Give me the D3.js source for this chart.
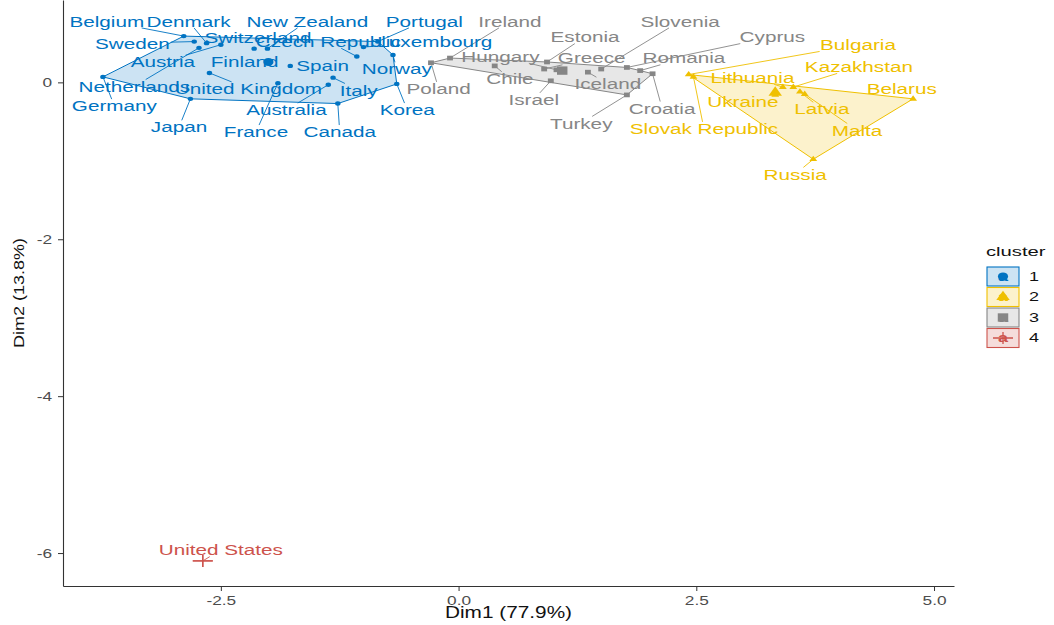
<!DOCTYPE html>
<html>
<head>
<meta charset="utf-8">
<script src="https://cdn.jsdelivr.net/npm/d3@7"></script>
<style>
  body { margin: 0; background: #fff; }
  svg { display: block; }
  text { font-family: Arial, "Liberation Sans", sans-serif; }
</style>
</head>
<body>
<svg id="chart" width="1054" height="625"></svg>
<script>
// ---- k-means clusters on the first two principal components ----
const countries = [
  "Belgium", "Sweden", "Denmark", "Netherlands", "Austria", "Germany", "United Kingdom",
  "Japan", "Switzerland", "New Zealand", "Finland", "Spain", "France", "Australia",
  "Italy", "Canada", "Korea", "Norway", "Portugal", "Luxembourg", "Czech Republic",
  "Bulgaria", "Slovak Republic", "Lithuania", "Kazakhstan", "Latvia", "Malta",
  "Ukraine", "Belarus", "Russia",
  "Poland", "Ireland", "Chile", "Hungary", "Estonia", "Greece", "Israel", "Iceland",
  "Slovenia", "Cyprus", "Romania", "Croatia", "Turkey",
  "United States"
];
const clusterOf = [
  "1","1","1","1","1","1","1","1","1","1","1","1","1","1","1","1","1","1","1","1","1",
  "2","2","2","2","2","2","2","2","2",
  "3","3","3","3","3","3","3","3","3","3","3","3","3",
  "4"
];
const dim1 = [
  -2.89, -2.78, -2.65, -2.73, -2.50, -3.74, -2.62, -2.82, -2.15, -2.01, -2.00, -1.77,
  -1.90, -1.37, -1.32, -1.27, -0.65, -0.69, -0.85, -1.00, -1.07,
  2.42, 2.47, 3.41, 3.52, 3.59, 3.64, 3.33, 4.78, 3.73,
  -0.29, -0.09, 0.38, 1.03, 0.93, 0.90, 0.97, 1.36, 1.50, 1.77, 1.91, 2.04, 1.77,
  -2.69
];
const dim2 = [
  0.59, 0.52, 0.50, 0.44, 0.48, 0.07, 0.12, -0.21, 0.43, 0.43, 0.26, 0.21,
  -0.01, -0.03, 0.06, -0.27, -0.02, 0.35, 0.52, 0.45, 0.33,
  0.10, 0.07, -0.06, -0.06, -0.12, -0.15, -0.16, -0.21, -0.98,
  0.25, 0.31, 0.21, 0.16, 0.26, 0.17, 0.02, 0.13, 0.17, 0.19, 0.15, 0.11, -0.16,
  -6.10
];
// text placement of each country name (repelled away from the points)
const labelDim1 = [
  -3.70, -3.43, -2.84, -3.41, -3.11, -3.62, -2.21, -2.94, -2.11, -1.59, -2.25, -1.43,
  -2.13, -1.81, -1.05, -1.25, -0.54, -0.65, -0.36, -0.25, -1.37,
  4.20, 2.58, 3.09, 4.21, 3.82, 4.19, 2.99, 4.66, 3.54,
  -0.21, 0.54, 0.54, 0.44, 1.33, 1.40, 0.79, 1.57, 2.33, 3.30, 2.37, 2.14, 1.29,
  -2.50
];
const labelDim2 = [
  0.78, 0.50, 0.78, -0.05, 0.26, -0.30, -0.08, -0.57, 0.57, 0.78, 0.26, 0.21,
  -0.63, -0.35, -0.10, -0.63, -0.35, 0.17, 0.78, 0.52, 0.52,
  0.48, -0.59, 0.06, 0.20, -0.34, -0.61, -0.25, -0.08, -1.17,
  -0.08, 0.78, 0.05, 0.33, 0.58, 0.31, -0.22, -0.02, 0.78, 0.58, 0.31, -0.33, -0.52,
  -5.96
];
// cluster centres
const clusterIds = ["1", "2", "3", "4"];
const centerDim1 = [-2.00, 3.33, 1.09, -2.69];
const centerDim2 = [0.26, -0.13, 0.15, -6.10];

const xTicks = [-2.5, 0, 2.5, 5.0];
const yTicks = [0, -2, -4, -6];
const xTitle = "Dim1 (77.9%)";
const yTitle = "Dim2 (13.8%)";
const legendTitle = "cluster";

// ---- layout ----
const palette = ["#0073C2", "#EFC000", "#868686", "#CD534C"];
const color = d3.scaleOrdinal().domain(clusterIds).range(palette);
const panel = { left: 63, right: 954, top: 0, bottom: 586 };
const stretch = 1.38; // horizontal widening of the lettering

const x = d3.scaleLinear().domain([-4.16, 5.21]).range([panel.left, panel.right]);
const y = d3.scaleLinear().domain([-6.42, 1.05]).range([panel.bottom, panel.top]);

const svg = d3.select("#chart");
svg.append("rect").attr("width", 1054).attr("height", 625).attr("fill", "#fff");

const pts = countries.map((name, i) => ({
  name, cluster: clusterOf[i],
  px: x(dim1[i]), py: y(dim2[i]),
  lx: x(labelDim1[i]), ly: y(labelDim2[i])
}));

// marker shapes per cluster, widened slightly like the lettering
function marker(sel, cluster, big) {
  const c = color(cluster);
  if (cluster === "4") {
    const hw = 10, hh = 6;
    sel.append("path")
      .attr("d", `M${-hw},0H${hw}M0,${-hh}V${hh}`)
      .attr("stroke", c).attr("stroke-width", 1.3).attr("fill", "none");
    return;
  }
  const type = cluster === "1" ? d3.symbolCircle : cluster === "2" ? d3.symbolTriangle : d3.symbolSquare;
  const size = cluster === "1" ? (big ? 52 : 15) : cluster === "2" ? (big ? 50 : 17) : (big ? 70 : 22);
  sel.append("path")
    .attr("d", d3.symbol().type(type).size(size)())
    .attr("transform", "scale(1.25,1)")
    .attr("fill", c);
}

// ---- convex hulls ----
const hullLayer = svg.append("g");
clusterIds.forEach(cid => {
  const members = pts.filter(p => p.cluster === cid).map(p => [p.px, p.py]);
  if (members.length < 3) return;
  const hull = d3.polygonHull(members);
  hullLayer.append("path")
    .attr("d", "M" + hull.join("L") + "Z")
    .attr("fill", color(cid)).attr("fill-opacity", 0.2)
    .attr("stroke", color(cid)).attr("stroke-width", 1);
});

// ---- axes ----
const axisColor = "#333";
const xAxis = svg.append("g")
  .attr("transform", `translate(0,${panel.bottom})`)
  .call(d3.axisBottom(x).tickValues(xTicks).tickFormat(d => d.toFixed(1))
    .tickSize(5).tickSizeOuter(0).tickPadding(5));
xAxis.select(".domain").attr("stroke", axisColor).attr("stroke-width", 1.1);
xAxis.selectAll(".tick line").attr("stroke", axisColor);
xAxis.selectAll(".tick text")
  .attr("fill", "#4D4D4D").attr("font-size", 12.5)
  .attr("font-family", "Arial, 'Liberation Sans', sans-serif")
  .attr("transform", `scale(${stretch},1)`);

const yAxis = svg.append("g")
  .attr("transform", `translate(${panel.left},0)`)
  .call(d3.axisLeft(y).tickValues(yTicks).tickFormat(d => String(d))
    .tickSize(5).tickSizeOuter(0));
yAxis.select(".domain").attr("stroke", axisColor).attr("stroke-width", 1.1);
yAxis.selectAll(".tick line").attr("stroke", axisColor);
yAxis.selectAll(".tick text")
  .attr("fill", "#4D4D4D").attr("font-size", 12.5)
  .attr("font-family", "Arial, 'Liberation Sans', sans-serif")
  .attr("x", -11 / stretch)
  .attr("transform", `scale(${stretch},1)`);

svg.append("text")
  .attr("transform", `translate(${(panel.left + panel.right) / 2},618) scale(1.3,1)`)
  .attr("text-anchor", "middle").attr("font-size", 16).attr("fill", "#111")
  .text(xTitle);
svg.append("text")
  .attr("transform", `translate(24,${(panel.top + panel.bottom) / 2}) scale(0.78,1) rotate(-90)`)
  .attr("text-anchor", "middle").attr("font-size", 18).attr("fill", "#111")
  .text(yTitle);

// ---- labels and their leader segments ----
const segLayer = svg.append("g");
const pointLayer = svg.append("g");
const labelLayer = svg.append("g");
const fontSize = 15;

pts.forEach(p => {
  const t = labelLayer.append("text")
    .attr("transform", `translate(${p.lx},${p.ly}) scale(${stretch},1)`)
    .attr("text-anchor", "middle").attr("dy", "0.36em")
    .attr("font-size", fontSize).attr("fill", color(p.cluster))
    .text(p.name);
  const hw = t.node().getComputedTextLength() * stretch / 2 + 1;
  const hh = fontSize * 0.45;
  const dx = p.px - p.lx, dy = p.py - p.ly;
  const tEdge = Math.min(dx === 0 ? Infinity : hw / Math.abs(dx), dy === 0 ? Infinity : hh / Math.abs(dy));
  if (tEdge >= 1) return;
  const ex = p.lx + dx * tEdge, ey = p.ly + dy * tEdge;
  if (Math.hypot(p.px - ex, p.py - ey) < 6) return;
  segLayer.append("line")
    .attr("x1", ex).attr("y1", ey).attr("x2", p.px).attr("y2", p.py)
    .attr("stroke", color(p.cluster)).attr("stroke-width", 0.9);
});

pts.forEach(p => {
  marker(pointLayer.append("g").attr("transform", `translate(${p.px},${p.py})`), p.cluster, false);
});
clusterIds.forEach((cid, i) => {
  marker(pointLayer.append("g").attr("transform", `translate(${x(centerDim1[i])},${y(centerDim2[i])})`), cid, true);
});

// ---- legend ----
const legend = svg.append("g");
legend.append("text")
  .attr("transform", `translate(986,256) scale(1.5,1)`)
  .attr("font-size", 13.5).attr("fill", "#111")
  .text(legendTitle);
clusterIds.forEach((cid, i) => {
  const top = 267 + i * 20.5;
  const key = legend.append("g");
  key.append("rect")
    .attr("x", 987).attr("y", top).attr("width", 32).attr("height", 19)
    .attr("fill", color(cid)).attr("fill-opacity", 0.2)
    .attr("stroke", color(cid)).attr("stroke-width", 1.1);
  const g = key.append("g").attr("transform", `translate(1003,${top + 9.5})`);
  g.append("text")
    .attr("transform", "scale(1.5,1)")
    .attr("text-anchor", "middle").attr("dy", "0.35em")
    .attr("font-size", 12).attr("fill", color(cid)).attr("font-weight", "bold")
    .text("a");
  marker(g, cid, true);
  legend.append("text")
    .attr("transform", `translate(1029,${top + 9.5}) scale(1.5,1)`)
    .attr("dy", "0.36em").attr("font-size", 12).attr("fill", "#111")
    .text(cid);
});
</script>
</body>
</html>
